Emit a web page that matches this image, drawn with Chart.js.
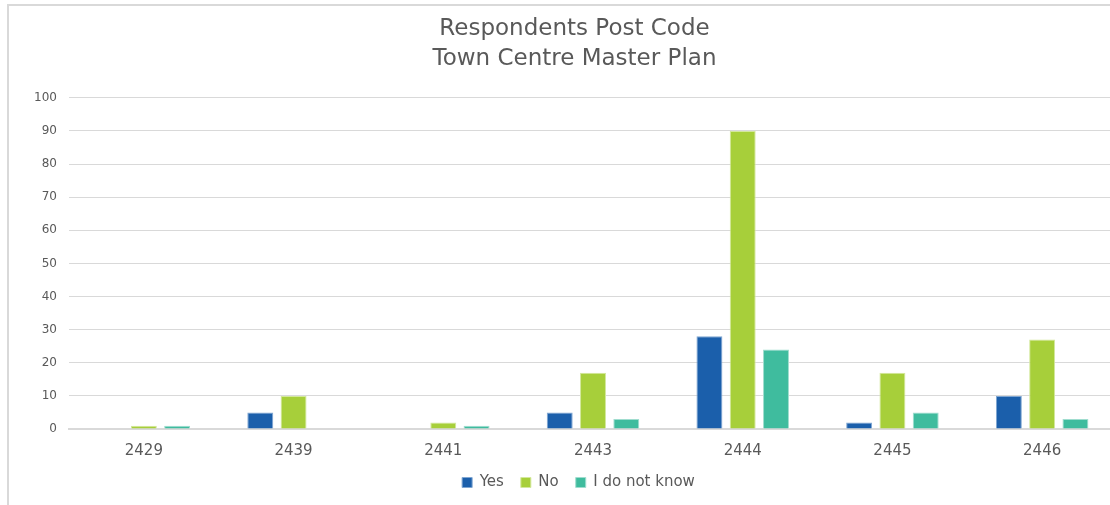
<!DOCTYPE html>
<html>
<head>
<meta charset="utf-8">
<script src="https://cdn.jsdelivr.net/npm/chart.js@4.4.1/dist/chart.umd.min.js"></script>
<style>
	html, body { margin: 0; padding: 0; background: #fff; overflow: hidden; width: 1110px; height: 505px; }
	#frame { position: absolute; left: 7px; top: 4px; width: 1120px; height: 520px; border: 2px solid #d9d9d9; box-sizing: border-box; }
	#wrap { position: absolute; left: 0; top: 0; width: 1117px; height: 507px; }
</style>
</head>
<body>
<div id="frame"></div>
<div id="wrap"><canvas id="chart"></canvas></div>
<script>
const postCodes = ['2429', '2439', '2441', '2443', '2444', '2445', '2446'];
const yesValues = [0, 5, 0, 5, 28, 2, 10];
const noValues = [1, 10, 2, 17, 90, 17, 27];
const dontKnowValues = [1, 0, 1, 3, 24, 5, 3];
const titleLines = ['Respondents Post Code', 'Town Centre Master Plan'];

const grey = '#595959';
const font = 'DejaVu Sans';

// title and legend in the original sit a little right of centre
const shiftBoxes = {
	id: 'shiftBoxes',
	afterLayout(chart) {
		chart.legend.left += 20;
		chart.legend.right += 20;
		chart.titleBlock.left += 16;
		chart.titleBlock.right += 16;
	}
};

const chart = new Chart(document.getElementById('chart'), {
	type: 'bar',
	data: {
		labels: postCodes,
		datasets: [
			{ label: 'Yes', data: yesValues, backgroundColor: '#1b5fab', borderColor: '#7fa6d2', borderWidth: 1 },
			{ label: 'No', data: noValues, backgroundColor: '#a7cf3a', borderColor: '#d3e89c', borderWidth: 1 },
			{ label: 'I do not know', data: dontKnowValues, backgroundColor: '#3fbc9e', borderColor: '#a0ddcf', borderWidth: 1 }
		]
	},
	options: {
		responsive: true,
		maintainAspectRatio: false,
		animation: false,
		datasets: { bar: { categoryPercentage: 0.667, barPercentage: 0.78 } },
		layout: { padding: { left: 0, right: 0, top: 14, bottom: 7 } },
		plugins: {
			title: {
				display: true,
				text: titleLines,
				color: grey,
				font: { family: font, size: 23, weight: 'normal', lineHeight: 1.3 },
				padding: { top: 0, bottom: 24 }
			},
			legend: {
				position: 'bottom',
				labels: {
					color: grey,
					font: { family: font, size: 15 },
					boxWidth: 10,
					boxHeight: 10,
					padding: 17
				}
			},
			tooltip: { enabled: false }
		},
		scales: {
			x: {
				afterFit: function (scale) { scale.height = 29; },
				grid: { display: false, drawTicks: false },
				border: { display: true, color: '#d9d9d9', width: 2 },
				ticks: { color: grey, font: { family: font, size: 15 }, padding: 13 }
			},
			y: {
				min: 0,
				max: 100,
				afterFit: function (scale) { scale.width = 69; },
				grid: { color: '#d9d9d9', lineWidth: 1, drawTicks: false },
				border: { display: false },
				ticks: { stepSize: 10, color: grey, font: { family: font, size: 12 }, padding: 12 }
			}
		}
	},
	plugins: [shiftBoxes]
});
</script>
</body>
</html>
